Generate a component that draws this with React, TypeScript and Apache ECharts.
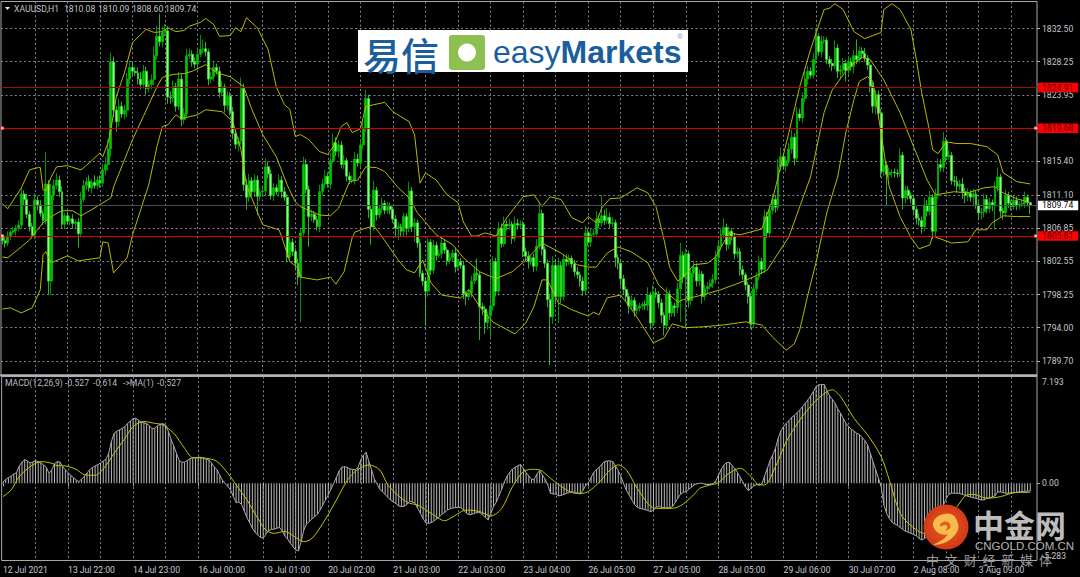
import React, { useEffect, useRef } from "react";
import * as echarts from "echarts";

const tickLabels = ["12 Jul 2021","13 Jul 22:00","14 Jul 23:00","16 Jul 00:00","19 Jul 01:00","20 Jul 02:00","21 Jul 03:00","22 Jul 03:00","23 Jul 04:00","26 Jul 05:00","27 Jul 05:00","28 Jul 05:00","29 Jul 06:00","30 Jul 07:00","2 Aug 08:00","3 Aug 09:00"];
const priceTicks = [1832.5,1828.25,1823.95,1819.65,1815.4,1811.1,1806.85,1802.55,1798.25,1794.0,1789.7];
const firstOpen = 1805.6;

const closes = [
1805.2,1804.9,1805.8,1806.3,1806.5,1806.8,1807.2,1811.2,1810.5,1808.6,1807.0,1805.9,
1810.4,1809.8,1808.7,1807.8,1812.5,1800.0,1811.0,1812.3,1813.0,1811.5,1807.3,1808.4,
1807.7,1808.0,1807.4,1807.6,1806.1,1810.5,1812.3,1812.8,1812.0,1812.7,1812.3,1813.0,
1812.6,1814.3,1815.0,1817.0,1828.2,1822.0,1820.5,1822.5,1821.5,1822.0,1826.0,1827.5,
1827.0,1826.8,1826.0,1825.3,1827.0,1824.8,1825.3,1825.9,1829.0,1831.5,1830.8,1832.0,
1832.2,1823.7,1823.6,1825.0,1822.5,1826.0,1820.8,1821.5,1829.0,1829.2,1828.2,1827.9,
1829.2,1829.8,1829.9,1829.5,1826.0,1826.3,1827.5,1827.0,1824.3,1825.0,1822.6,1823.8,
1821.8,1819.0,1817.6,1818.0,1824.8,1812.4,1810.8,1812.9,1811.5,1813.0,1810.9,1811.5,
1811.6,1814.7,1813.8,1811.0,1812.0,1811.5,1813.0,1811.5,1810.8,1803.1,1805.0,1803.8,
1802.3,1800.5,1806.2,1815.0,1811.8,1808.3,1808.6,1807.9,1807.0,1811.5,1812.5,1813.5,
1812.5,1815.5,1817.8,1816.7,1817.5,1815.0,1815.5,1813.5,1813.0,1813.0,1815.7,1815.2,
1817.5,1819.7,1823.5,1809.2,1807.0,1811.7,1808.5,1809.3,1810.0,1809.1,1809.6,1809.2,
1808.0,1806.8,1807.0,1806.4,1808.3,1806.8,1811.6,1807.0,1807.5,1804.9,1801.0,1800.0,
1798.7,1805.0,1801.4,1804.6,1803.3,1803.5,1804.9,1804.0,1802.6,1803.0,1803.6,1801.8,
1802.5,1802.0,1798.4,1798.0,1798.5,1800.0,1801.0,1800.8,1796.7,1796.4,1794.7,1795.5,
1796.8,1802.5,1798.7,1806.8,1804.8,1807.3,1807.1,1807.3,1805.5,1807.4,1807.2,1807.3,
1803.8,1803.2,1802.5,1803.0,1801.9,1804.5,1808.7,1804.1,1802.3,1797.6,1795.4,1802.0,
1798.0,1802.0,1798.0,1802.8,1802.5,1802.9,1802.2,1801.2,1800.8,1800.0,1798.8,1806.2,
1805.0,1806.0,1806.1,1808.0,1807.5,1808.4,1807.8,1808.2,1807.4,1807.5,1803.0,1802.3,
1800.3,1798.9,1798.0,1796.8,1797.5,1796.2,1796.5,1796.8,1797.0,1796.9,1798.2,1794.6,
1798.5,1798.3,1797.2,1795.6,1794.3,1798.3,1795.9,1796.8,1796.6,1799.0,1803.3,1800.5,
1803.5,1797.5,1801.0,1801.8,1800.0,1800.9,1798.0,1799.0,1799.3,1799.7,1800.2,1803.0,
1804.5,1806.0,1806.9,1804.7,1806.4,1805.7,1803.5,1803.8,1801.5,1800.8,1799.5,1798.0,
1794.5,1799.0,1800.5,1802.5,1801.5,1808.3,1806.2,1809.1,1810.5,1809.5,1814.7,1816.0,
1814.8,1815.5,1817.0,1818.5,1815.8,1821.5,1821.0,1823.5,1826.0,1827.0,1826.5,1828.5,
1831.5,1829.5,1830.9,1831.0,1828.5,1828.0,1827.7,1830.0,1827.0,1827.2,1828.0,1827.1,
1828.2,1827.6,1829.0,1828.5,1829.6,1829.3,1828.7,1827.8,1825.1,1822.5,1824.0,1821.6,
1814.1,1814.9,1813.7,1814.0,1814.0,1813.9,1813.8,1816.2,1810.7,1811.7,1811.0,1810.6,
1809.2,1808.1,1807.8,1807.0,1809.8,1809.0,1810.8,1806.4,1811.0,1815.0,1814.6,1818.0,
1816.0,1816.2,1812.9,1812.8,1812.2,1812.5,1811.5,1811.0,1811.3,1810.8,1811.2,1809.8,
1808.8,1808.9,1810.5,1809.3,1810.1,1809.8,1812.0,1813.4,1809.0,1808.8,1811.0,1810.0,
1809.6,1810.4,1809.7,1809.9,1810.0,1810.8,1810.08,1809.74];

const wickUp = [
.4,.5,.6,.3,.5,.4,.6,.8,.5,.7,.4,.5,
.9,.5,.6,.4,4.1,.5,1.5,.8,.9,.6,.7,.4,
.5,.4,.6,.3,.5,1.0,.7,.6,.8,.4,.9,.5,
.6,.8,1.0,1.2,1.2,.7,.5,1.0,.6,.7,.8,.9,
.6,.5,.7,.9,.8,.6,.5,.7,1.2,1.4,2.9,.8,
.9,.6,.7,.8,.5,.9,.6,.8,.9,.7,.5,.6,
.8,1.9,1.2,.9,.4,.6,.7,.5,.6,.8,.4,.7,
.5,.6,.4,.5,1.4,.6,.7,.9,.5,.8,.6,.4,
.5,1.1,.7,.5,.6,.4,.8,.5,.6,.4,.7,.5,
.4,.6,.5,1.0,.7,.5,.6,.4,.5,.9,.7,.8,
.5,1.0,1.2,.7,.6,.5,.8,.4,.5,.6,.9,.7,
.8,.9,1.1,.5,.6,1.2,.4,.5,.7,.4,.6,.5,
.4,.5,.6,.4,.5,.4,1.2,.5,.6,.4,.5,.4,
.5,.6,.4,.7,.5,.6,.8,.5,.4,.6,.5,.7,
.4,.5,.6,.3,.5,.7,.9,1.9,.4,.5,.4,.6,
6.0,.7,.5,.8,.6,1.0,.5,.7,.4,.9,.6,.5,
.4,.5,.6,.3,.5,.9,1.3,.5,.4,.5,.6,1.2,
.8,1.0,.5,.7,.6,.5,.4,.5,.6,.4,.5,.9,
.5,.7,.6,1.0,.5,2.7,.8,1.2,.6,.7,.4,.5,
.4,.5,.4,.5,.6,.4,.5,.4,.3,.5,1.0,.4,
1.0,.6,.4,.5,.4,.9,.5,.6,.4,.8,1.6,.5,
.7,.4,.6,.8,.5,.6,.4,.5,.6,.5,.7,.9,
.8,.7,1.2,.5,.6,.4,.5,.6,.4,.5,.3,.4,
.5,.7,.6,.8,.5,.9,.6,.8,.7,.5,1.0,1.2,
.4,.6,.8,1.0,.5,.9,.7,.8,.9,.7,.5,.9,
.9,.4,.7,.5,.4,.5,.6,1.0,.5,.6,.7,.5,
.8,.6,.7,2.1,.6,.5,.7,.4,.4,.5,.6,.5,
.6,.9,.5,.6,.4,.5,.5,.9,.4,.6,.5,.4,
.5,.4,.6,.5,.9,.6,.8,.4,.9,.8,.7,1.2,
.5,.6,.4,.6,.7,.5,.8,.5,.6,.4,.7,.5,
.4,.5,.7,.5,.6,.4,.8,1.2,.4,.5,.7,.5,
.4,.6,.5,.4,.5,.7,.3,.01];

const wickDown = [
.5,.6,.4,.5,.3,.6,.4,.5,.7,.5,.6,.4,
.5,.7,.4,.6,.5,1.8,1.8,.6,.5,.7,.5,.6,
.4,.5,.7,.6,1.8,.5,.4,.6,.5,.7,.4,.5,
.6,.5,.7,.8,1.0,.9,1.3,.6,.5,.7,.9,.6,
.5,.4,.7,.6,.5,.8,.5,.6,.7,.5,.6,.7,
.5,.9,.8,.6,.7,.5,.9,.6,.5,.4,.6,.5,
.7,.4,.5,.6,.8,.5,.6,.4,.7,.5,.9,.6,
.5,.7,.6,.9,.5,.8,1.6,.6,.5,.7,2.4,.6,
.5,.7,.6,.5,.7,.4,.6,.8,.5,.7,.4,.6,
.9,1.0,5.8,.6,.5,3.9,.6,.4,.5,.7,.5,.6,
.5,.7,.4,.6,.8,.5,.6,.7,.5,.4,.6,.5,
.7,.6,.5,1.1,2.3,.5,.7,.4,.6,.5,.4,.6,
.5,1.2,1.5,.7,.6,.9,.5,.7,2.0,.6,.5,.6,
4.4,.7,.6,.5,.7,.4,.6,.5,.6,.4,.5,.7,
.5,.4,.7,1.1,.5,.6,.4,.7,4.3,.8,1.5,.9,
2.8,.6,.7,.6,.5,.4,.6,.5,.7,.4,.6,.5,
.7,.6,.9,.5,.7,.6,.4,.8,.6,1.0,6.2,.9,
1.0,3.4,.8,.5,.6,.4,.5,.6,.5,.7,.7,.6,
.5,.6,.4,.5,.7,.5,.6,.4,.7,.5,1.2,.8,
.9,.7,.6,1.0,.5,.8,.5,.4,.5,.6,.7,.9,
.6,.5,.7,1.0,1.3,.6,.9,.5,1.2,.7,4.3,.8,
6.5,.9,.6,.5,.7,.6,.9,.5,.7,.4,.6,.5,
.7,.6,.5,.8,.6,.5,.7,.5,.8,.6,.7,.9,
.7,.6,.5,.4,.6,.5,.7,.6,.5,.7,.4,.6,
.5,.7,.4,.6,.9,.5,.4,.6,.5,.7,.4,.5,
.6,.5,.7,.4,.6,.5,.7,.4,.9,1.0,.6,1.4,
.7,.5,.9,.6,.4,.7,.5,.6,.8,.9,1.0,.7,
.8,.6,3.9,.5,.7,.6,.5,.4,1.5,.7,.5,.6,
.5,.8,.7,.9,.6,.7,.5,1.0,.6,.4,.5,.6,
.7,.4,.5,.6,.8,.5,.9,1.0,.7,.6,1.2,.5,
1.0,.9,.7,.6,.5,.8,3.2,.5,.7,.9,.5,.6,
.5,.4,.6,.5,.4,.6,.5,1.14];

const bbUpper = [[0,1809.95],[2,1809.3],[7,1812.0],[10,1814.3],[13,1814.6],[14,1814.6],[15,1811.75],[16,1811.6],[18,1813.4],[20,1814.7],[24,1814.85],[29,1814.3],[32,1815.2],[36,1816.5],[37,1816.0],[39,1817.8],[40,1819.5],[42,1823.7],[45,1826.8],[48,1830.7],[53,1832.4],[56,1832.0],[59,1832.1],[61,1832.6],[64,1832.1],[67,1832.25],[69,1832.8],[73,1833.3],[75,1833.8],[78,1833.0],[80,1831.5],[84,1831.6],[86,1832.6],[88,1832.1],[90,1833.9],[94,1832.6],[98,1829.8],[101,1825.0],[104,1822.7],[106,1822.1],[108,1818.6],[110,1818.85],[113,1818.2],[117,1816.65],[120,1816.3],[122,1817.3],[125,1819.9],[127,1820.4],[129,1819.1],[132,1819.6],[133,1821.0],[134,1822.45],[137,1822.7],[141,1823.0],[144,1821.8],[150,1820.5],[152,1818.8],[154,1812.6],[156,1813.9],[160,1813.0],[164,1811.1],[168,1810.1],[170,1807.6],[173,1805.8],[175,1805.8],[178,1806.2],[182,1805.8],[186,1808.15],[192,1810.85],[196,1811.1],[199,1809.6],[202,1810.85],[206,1810.5],[210,1808.15],[214,1807.5],[216,1808.3],[219,1807.5],[221,1809.4],[224,1810.6],[228,1810.7],[234,1812.0],[238,1811.35],[241,1809.6],[244,1805.3],[246,1801.8],[249,1800.0],[251,1800.5],[255,1802.1],[260,1802.3],[263,1803.1],[268,1806.2],[272,1805.95],[280,1806.7],[284,1810.5],[290,1819.1],[294,1825.0],[298,1829.8],[303,1834.95],[305,1835.1],[307,1835.7],[310,1834.95],[314,1832.1],[318,1831.2],[324,1832.0],[325,1834.95],[328,1835.7],[331,1834.95],[335,1832.4],[337,1828.5],[339,1824.25],[342,1819.1],[343,1816.9],[345,1816.4],[348,1817.9],[352,1817.7],[357,1817.7],[363,1817.3],[367,1816.25],[369,1813.95],[374,1812.8],[379,1812.5]];

const bbMiddle = [[0,1803.1],[2,1803.0],[7,1804.4],[10,1805.3],[15,1807.5],[19,1808.5],[22,1809.05],[26,1809.05],[29,1808.4],[33,1809.2],[40,1810.7],[41,1812.1],[45,1815.6],[48,1818.2],[52,1821.2],[57,1825.0],[59,1826.2],[63,1826.6],[67,1826.7],[70,1827.0],[75,1827.85],[79,1826.8],[84,1826.3],[89,1825.0],[92,1822.1],[96,1818.85],[101,1816.0],[105,1812.4],[108,1810.2],[110,1809.55],[117,1808.5],[121,1808.4],[124,1809.4],[128,1812.8],[131,1813.0],[134,1814.7],[138,1814.6],[141,1814.1],[146,1812.0],[150,1810.7],[153,1808.8],[160,1805.95],[166,1804.7],[170,1803.0],[176,1801.2],[182,1800.3],[188,1801.2],[193,1802.7],[199,1804.9],[206,1803.6],[212,1802.1],[216,1801.8],[219,1801.8],[223,1803.6],[227,1804.4],[232,1803.75],[238,1802.35],[242,1799.5],[249,1797.3],[251,1797.6],[258,1798.2],[265,1798.9],[272,1799.8],[278,1800.7],[282,1801.4],[290,1805.7],[298,1813.4],[303,1821.7],[306,1824.6],[312,1827.5],[317,1828.8],[320,1828.5],[325,1825.9],[331,1821.7],[336,1817.3],[341,1813.0],[344,1811.1],[351,1811.5],[356,1811.35],[362,1812.0],[366,1812.15],[369,1811.35],[374,1810.6],[379,1810.1]];

const bbLower = [[0,1796.4],[3,1796.55],[7,1795.9],[11,1796.55],[14,1798.9],[15,1803.4],[16,1803.8],[18,1802.35],[24,1803.25],[28,1802.6],[36,1803.0],[37,1805.05],[39,1804.9],[41,1801.05],[46,1803.0],[48,1805.95],[54,1812.4],[57,1817.3],[59,1819.9],[61,1820.1],[64,1821.4],[66,1820.9],[72,1821.4],[75,1822.05],[81,1821.8],[85,1820.5],[88,1816.9],[90,1812.4],[94,1808.9],[96,1807.25],[102,1806.6],[103,1805.7],[106,1802.5],[109,1801.7],[110,1800.5],[116,1800.15],[121,1800.5],[123,1799.6],[126,1801.2],[129,1805.6],[130,1806.3],[133,1806.7],[137,1807.1],[140,1805.7],[146,1802.7],[149,1801.45],[152,1801.05],[155,1802.7],[158,1799.8],[162,1798.2],[169,1797.8],[172,1798.9],[176,1796.7],[181,1794.7],[189,1793.2],[193,1794.6],[196,1796.7],[199,1800.15],[201,1800.15],[205,1797.2],[210,1796.3],[216,1795.5],[218,1796.0],[220,1795.65],[223,1797.85],[228,1798.2],[233,1795.9],[240,1792.05],[244,1792.7],[247,1794.5],[252,1794.0],[258,1794.1],[266,1794.35],[274,1794.75],[280,1794.35],[284,1792.8],[289,1791.1],[292,1791.9],[294,1793.7],[297,1798.2],[300,1802.35],[304,1808.8],[308,1813.4],[311,1819.1],[314,1823.35],[316,1825.7],[319,1826.3],[321,1825.7],[324,1819.1],[327,1812.15],[331,1808.3],[335,1805.6],[338,1804.15],[342,1804.65],[343,1805.8],[350,1804.9],[356,1805.05],[359,1806.6],[363,1806.6],[365,1807.5],[369,1808.4],[374,1808.3],[379,1808.3]];

const macd = [
.09,.25,.38,.49,.63,.72,1.17,1.42,1.6,1.5,1.37,1.44,
1.53,1.46,1.37,1.24,1.06,.67,.9,1.33,1.46,1.44,1.12,.92,
.7,.54,.38,.22,.11,.29,.47,.7,.92,1.06,1.17,1.26,
1.37,1.5,1.62,2.02,2.81,3.37,3.51,3.6,3.71,3.82,4.04,4.2,
4.36,4.38,4.25,4.13,4.07,4.02,3.87,3.69,3.71,3.87,3.98,4.02,
3.91,3.51,2.97,2.52,2.02,1.53,1.42,1.42,1.55,1.66,1.71,1.73,
1.75,1.75,1.69,1.62,1.57,1.35,1.1,.9,.54,.2,-.02,-.22,
-.45,-.9,-1.3,-1.26,-1.42,-1.87,-2.31,-2.65,-3.03,-3.3,-3.48,-3.64,
-3.69,-3.44,-3.19,-3.12,-3.08,-3.03,-2.97,-3.21,-3.55,-3.75,-4.04,-4.27,
-4.49,-4.56,-3.93,-3.15,-2.74,-2.58,-2.4,-2.25,-2.09,-1.8,-1.46,-1.12,
-.79,-.4,0,.4,.83,1.08,1.12,1.08,.97,.94,.92,1.08,
1.57,1.91,2.09,1.46,.9,.29,-.04,-.4,-.56,-.76,-.94,-1.12,
-1.24,-1.37,-1.53,-1.57,-1.55,-1.42,-1.21,-1.26,-1.33,-1.69,-2.02,-2.38,
-2.67,-2.7,-2.65,-2.54,-2.4,-2.25,-2.07,-1.96,-1.8,-1.71,-1.66,-1.64,
-1.62,-1.64,-1.8,-2.02,-2.11,-2.09,-2.02,-1.98,-1.98,-2.13,-2.31,-2.47,
-2.02,-1.57,-1.28,-.85,-.4,.11,.49,.74,.97,1.08,1.19,1.26,
1.01,.72,.49,.27,.27,.63,.85,.56,.29,-.11,-.67,-.72,
-.72,-.85,-.81,-.74,-.67,-.63,-.56,-.61,-.67,-.72,-.47,-.16,
.04,.4,.76,.94,1.08,1.3,1.46,1.51,1.51,1.46,1.17,.85,
.45,-.04,-.47,-.79,-1.12,-1.42,-1.62,-1.69,-1.73,-1.78,-1.84,-1.91,
-1.8,-1.62,-1.57,-1.62,-1.66,-1.66,-1.64,-1.57,-1.3,-1.01,-.72,-.61,
-.56,-.4,-.27,-.11,-.04,0,0,-.07,-.09,-.07,-.04,.16,
.56,.94,1.24,1.39,1.42,1.19,1.01,.72,.4,.07,-.27,-.49,
-.34,-.18,-.09,-.11,-.04,.49,1.01,1.53,1.91,2.36,3.03,3.53,
3.82,4.04,4.22,4.45,4.58,4.76,4.94,5.17,5.39,5.62,5.89,6.18,
6.52,6.63,6.65,6.65,6.25,5.89,5.66,5.39,5.01,4.72,4.38,4.04,
3.82,3.64,3.51,3.37,3.28,3.08,2.88,2.58,2.02,1.46,.9,.34,
-.22,-1.46,-2.02,-2.36,-2.63,-2.74,-2.83,-2.97,-3.1,-3.24,-3.3,-3.37,
-3.46,-3.55,-3.71,-3.82,-3.71,-3.6,-3.48,-3.15,-2.7,-2.25,-1.8,-1.46,
-1.01,-.74,-.67,-.67,-.67,-.7,-.74,-.81,-.88,-.92,-.97,-1.01,
-1.08,-1.12,-1.12,-1.01,-.97,-.92,-.85,-.58,-.58,-.63,-.67,-.67,
-.65,-.63,-.61,-.58,-.56,-.54,-.52,-.527];

const signal = [[0,-.9],[3,-.45],[6,.45],[10,1.12],[14,1.46],[18,1.35],[20,1.19],[23,1.17],[27,.94],[30,.58],[34,.54],[37,.97],[41,2.02],[45,3.03],[48,3.82],[52,4.16],[56,4.04],[59,3.93],[63,3.37],[67,2.36],[70,1.73],[75,1.69],[79,1.46],[83,.67],[86,-.11],[90,-1.12],[94,-2.36],[97,-3.15],[100,-3.37],[104,-3.24],[107,-3.53],[111,-3.93],[114,-3.71],[118,-2.7],[122,-1.46],[126,-.11],[128,.45],[131,.94],[135,1.24],[139,.9],[142,-.11],[147,-1.01],[150,-1.35],[153,-1.46],[158,-2.02],[163,-2.52],[166,-2.25],[171,-1.8],[176,-1.91],[180,-2.2],[184,-1.69],[188,-.22],[192,.79],[195,.94],[198,.9],[202,.34],[207,-.34],[211,-.67],[214,-.67],[219,-.11],[224,.9],[227,1.24],[230,.9],[234,-.34],[239,-1.57],[242,-1.69],[247,-1.69],[251,-1.39],[256,-.56],[257,-.34],[261,-.11],[264,.04],[267,.56],[272,1.01],[276,.45],[279,-.11],[281,-.11],[285,1.12],[289,2.81],[294,4.27],[299,5.39],[304,6.18],[306,6.29],[309,5.84],[314,4.38],[319,3.26],[324,1.8],[327,.22],[331,-2.02],[335,-2.85],[340,-3.37],[343,-3.15],[348,-2.25],[352,-1.57],[355,-.85],[358,-.74],[363,-1.01],[368,-.9],[374,-.61],[379,-.61]];

const levelLines = [
  { value: 1824.91, color: "#a00c0c" },
  { value: 1819.68, color: "#d80000" },
  { value: 1805.81, color: "#e00000" },
];
const lastPrice = 1809.74;
const anchoredLevels = [1819.68, 1805.81];
const headerQuotes = ["1810.08", "1810.09", "1808.60", "1809.74"];
const macdReadings = ["-0.527", "-0.614", "->MA(1)", "-0.527"];

const BAR_SLOTS = 382;
const FONT = "Roboto, sans-serif";
const LABEL_SIZE = 8.6;
const YELLOW = "#b8b800";
const headerQuoteX = [64, 98, 132, 165];
const macdReadingX = [65, 93, 123, 157];

echarts.graphic.registerShape("swirlOuter", echarts.graphic.extendPath("M-13 -1 C-14 -8 -7 -13 -1 -13 C3 -15 10 -12 11 -6 C14 -1 12 6 7 10 C3 15 -6 18 -13 18 C-7 15 -1 12 2 7 C-2 9 -10 7 -13 -1 Z", {}));
echarts.graphic.registerShape("swirlInner", echarts.graphic.extendPath("M-6 -1 C-6 -6 2 -7 4 -3 C6 1 2 4 -1 3 C2 2 2 -2 -1 -2 C-3 -2 -4 0 -6 -1 Z", {}));

export default function App() {
  const ref = useRef<HTMLDivElement>(null);
  useEffect(() => {
    document.body.style.margin = "0";
    document.body.style.background = "#000";
    const chart = echarts.init(ref.current!, null, { renderer: "svg" });

    const candles = closes.map((c, i) => {
      const o = i === 0 ? firstOpen : closes[i - 1];
      return [o, c, Math.min(o, c) - wickDown[i], Math.max(o, c) + wickUp[i]];
    });
    const categories = Array.from({ length: BAR_SLOTS }, (_, i) =>
      i % 24 === 0 && tickLabels[i / 24] ? tickLabels[i / 24] : String(i)
    );
    const everyTwelfth = (i: number) => i % 12 === 0 && i > 0;
    const gridStyle = { color: "#7e8590", width: 1, type: [2, 2.6] };
    const gridLine = { show: true, interval: everyTwelfth, alignWithLabel: true, lineStyle: gridStyle };
    const bollinger = (data: number[][]) => ({
      type: "line", xAxisIndex: 0, yAxisIndex: 0, data, symbol: "none", silent: true, z: 4,
      lineStyle: { color: YELLOW, width: 1 },
    });
    const levelLabel = (bg: string, fg: string) => ({
      show: true, position: "end", distance: 1, backgroundColor: bg, color: fg,
      fontSize: LABEL_SIZE, fontFamily: FONT, padding: [0, 5, 0, 4], height: 9.5, lineHeight: 9.5,
      formatter: (p: any) => Number(p.value).toFixed(2),
    });
    const headerText = (text: string, x: number, y: number, fill: string, z = 20) => ({
      type: "text", z, x, y, style: { text, fill, font: `${LABEL_SIZE}px ${FONT}`, textVerticalAlign: "middle" },
    });

    chart.setOption({
      animation: false,
      backgroundColor: "#000",
      grid: [
        { left: 1, top: 1.5, width: 1036, height: 373.5, show: true, borderColor: "#a8a8a8", borderWidth: 1, backgroundColor: "#000" },
        { left: 1, top: 376.5, width: 1036, height: 184, show: true, borderColor: "#a8a8a8", borderWidth: 1, backgroundColor: "#000" },
      ],
      xAxis: [
        { type: "category", gridIndex: 0, data: categories, boundaryGap: true, axisLine: { show: false }, axisTick: { show: false }, axisLabel: { show: false }, splitLine: gridLine },
        {
          type: "category", gridIndex: 1, data: categories, boundaryGap: true, axisLine: { show: false },
          axisTick: { show: true, alignWithLabel: true, length: 3, interval: (i: number) => i % 24 === 0, lineStyle: { color: "#a8a8a8" } },
          axisLabel: { show: true, interval: (i: number) => i % 24 === 0, align: "left", margin: 5, color: "#c4ccd8", fontSize: LABEL_SIZE, fontFamily: FONT },
          splitLine: gridLine,
        },
      ],
      yAxis: [
        {
          type: "value", gridIndex: 0, position: "right", min: 1787.91, max: 1835.98,
          axisLine: { show: false },
          axisTick: { show: true, length: 3, customValues: priceTicks, lineStyle: { color: "#a8a8a8" } },
          axisLabel: { show: true, customValues: priceTicks, margin: 5, color: "#c4c8cc", fontSize: LABEL_SIZE, fontFamily: FONT, formatter: (v: number) => v.toFixed(2) },
          splitLine: { show: true, lineStyle: gridStyle },
        },
        {
          type: "value", gridIndex: 1, position: "right", min: -5.2, max: 7.193,
          axisLine: { show: false },
          axisTick: { show: true, length: 3, customValues: [0], lineStyle: { color: "#a8a8a8" } },
          axisLabel: { show: true, customValues: [0], margin: 5, color: "#c4c8cc", fontSize: LABEL_SIZE, fontFamily: FONT, formatter: (v: number) => v.toFixed(2) },
          splitLine: { show: false },
        },
      ],
      series: [
        {
          type: "candlestick", xAxisIndex: 0, yAxisIndex: 0, data: candles, barWidth: 2.4, silent: true, z: 3,
          itemStyle: { color: "#00c400", color0: "#8cff7c", borderColor: "#00b800", borderColor0: "#2ee02e", borderWidth: 0.8 },
          markLine: {
            silent: true, symbol: "none", animation: false, z: 6,
            data: [
              ...levelLines.map((l) => ({ yAxis: l.value, lineStyle: { color: l.color, width: 1.2, type: "solid" }, label: levelLabel("#ff0000", "#5a0000") })),
              { yAxis: lastPrice, lineStyle: { color: "#4c4f52", width: 1.2, type: "solid" }, label: levelLabel("#ffffff", "#000000") },
            ],
          },
        },
        bollinger(bbUpper),
        bollinger(bbMiddle),
        bollinger(bbLower),
        {
          type: "scatter", xAxisIndex: 0, yAxisIndex: 0, symbol: "rect", symbolSize: 3, silent: true, z: 7,
          itemStyle: { color: "#ffffff", borderColor: "#ff0000", borderWidth: 0.6 },
          data: anchoredLevels.flatMap((v) => [[0, v], [BAR_SLOTS - 1, v]]),
        },
        { type: "bar", xAxisIndex: 1, yAxisIndex: 1, data: macd, barWidth: 1, silent: true, itemStyle: { color: "#b8b8b8" }, z: 2 },
        { type: "line", xAxisIndex: 1, yAxisIndex: 1, data: macd, symbol: "none", silent: true, lineStyle: { color: "#a8a8a8", width: 1 }, z: 3 },
        { type: "line", xAxisIndex: 1, yAxisIndex: 1, data: signal, symbol: "none", smooth: 0.3, silent: true, lineStyle: { color: "#c4c400", width: 1 }, z: 4 },
      ],
      graphic: [
        { type: "rect", z: 15, shape: { x: 0, y: 374.5, width: 1037.5, height: 2 }, style: { fill: "#b4b4b4" } },
        { type: "polygon", z: 20, shape: { points: [[5, 7], [10, 7], [7.5, 10]] }, style: { fill: "#e8e8e8" } },
        headerText("XAUUSD,H1", 14, 9, "#c0c4c8"),
        ...headerQuotes.map((q, i) => headerText(q, headerQuoteX[i], 9, "#c0c4c8")),
        headerText("MACD(12,26,9)", 5, 383, "#b8bcc4"),
        ...macdReadings.map((q, i) => headerText(q, macdReadingX[i], 383, "#b8bcc4")),
        headerText("7.193", 1042, 382, "#c4c8cc", 9),
        headerText("-5.283", 1042, 556, "#c4c8cc", 9),
        // easyMarkets banner
        { type: "rect", z: 20, shape: { x: 358, y: 30, width: 330, height: 42 }, style: { fill: "#ffffff" } },
        { type: "text", z: 21, x: 363, y: 53, style: { text: "易信", fill: "#1a5f9c", font: "500 38px 'Noto Sans CJK SC'", textVerticalAlign: "middle" } },
        { type: "rect", z: 21, shape: { x: 449, y: 35, width: 36, height: 35, r: 3 }, style: { fill: "#8cc152" } },
        { type: "circle", z: 22, shape: { cx: 467, cy: 52.5, r: 9 }, style: { fill: "#ffffff" } },
        {
          type: "text", z: 21, x: 493, y: 52, style: {
            text: "{a|easy}{b|Markets}", textVerticalAlign: "middle",
            rich: {
              a: { fill: "#1a5f9c", font: "32px 'Liberation Sans'" },
              b: { fill: "#1a5f9c", font: "bold 32px 'Liberation Sans'" },
            },
          },
        },
        { type: "text", z: 21, x: 677, y: 36, style: { text: "®", fill: "#7a9ab8", font: "8px 'Liberation Sans'", textVerticalAlign: "middle" } },
        // CNGOLD watermark
        {
          type: "circle", z: 30, shape: { cx: 946, cy: 527, r: 22.5 },
          style: { fill: new echarts.graphic.RadialGradient(0.5, 0.5, 0.5, [{ offset: 0, color: "#ee5a1c" }, { offset: 1, color: "#cf3a18" }]) },
        },
        { type: "swirlOuter", z: 31, x: 946, y: 527, style: { fill: "#f6bd4e" } },
        { type: "swirlInner", z: 32, x: 946, y: 527, style: { fill: "#e2601f" } },
        { type: "text", z: 30, x: 973, y: 523, style: { text: "中金网", fill: "#bcbcbc", font: "bold 31px 'Noto Sans CJK SC'", textVerticalAlign: "middle" } },
        { type: "text", z: 30, x: 975, y: 546, style: { text: "CNGOLD.COM.CN", fill: "#b4b4b4", font: "11.5px 'Liberation Sans'", textVerticalAlign: "middle" } },
        { type: "text", z: 30, x: 926, y: 559, style: { text: "中  文  财  经  新  媒  体", fill: "#9a9a9a", font: "13px 'Noto Sans CJK SC'", textVerticalAlign: "middle" } },
      ],
    });
    return () => chart.dispose();
  }, []);
  return <div ref={ref} style={{ position: "absolute", left: 0, top: 0, width: 1080, height: 577 }} />;
}
